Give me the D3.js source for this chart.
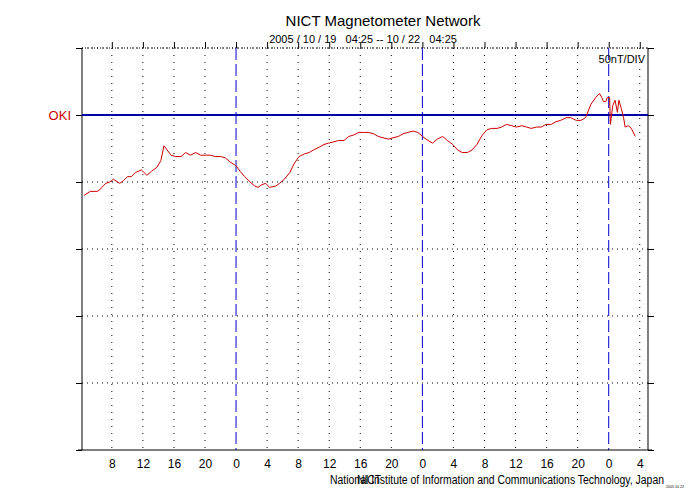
<!DOCTYPE html>
<html><head><meta charset="utf-8">
<script src="https://cdn.jsdelivr.net/npm/d3@7"></script>
<style>body{margin:0;background:#fff}text{font-family:"Liberation Sans",Arial,sans-serif;white-space:pre}</style>
</head><body><svg id="c" width="700" height="500"></svg>
<script>
// hours since 2005/10/19 04:25
var hours = [0,0.8,1.7,2.0,2.3,2.8,3.3,3.8,4.6,5.1,5.6,6.1,6.6,7.4,8.1,8.7,9.4,9.9,10.3,10.7,11.2,11.8,12.5,13.1,13.7,14.4,15.0,15.6,16.3,16.9,17.6,18.2,18.8,19.6,20.1,20.7,21.4,22.0,22.4,22.9,23.4,23.9,24.7,25.2,25.8,26.5,27.1,27.7,28.4,29.0,29.6,30.3,30.9,31.5,32.2,32.8,33.5,34.1,34.7,35.4,36.0,36.6,37.3,37.9,38.5,39.2,39.8,40.5,41.1,41.7,42.4,43.0,43.6,44.3,44.9,45.5,46.2,46.8,47.5,48.1,48.7,49.4,50.0,50.6,51.3,51.9,52.5,53.2,53.8,54.4,55.1,55.7,56.4,57.0,57.6,58.3,58.9,59.5,60.2,60.8,61.4,62.1,62.7,63.4,64.0,64.6,65.3,65.9,66.4,66.7,66.9,67.2,67.4,67.7,67.8,68.1,68.4,68.7,68.9,69.2,69.5,69.7,70.1,70.5,71.0];
// OKI H component, nT relative to baseline
var oki = [-60,-57,-57,-56,-54,-51,-50,-48,-51,-49,-46,-46,-43,-41,-45,-42,-39,-34,-23,-26,-30,-31,-31,-28,-30,-28,-30,-30,-30,-31,-31,-32,-35,-38,-42,-46,-50,-53,-54,-52,-51,-54,-53,-51,-48,-43,-36,-31,-29,-28,-26,-24,-22,-21,-20,-19,-19,-16,-15,-13,-13,-13,-14,-16,-17,-18,-17,-16,-14,-13,-12,-13,-16,-19,-21,-18,-16,-19,-22,-26,-28,-28,-26,-22,-15,-11,-10,-10,-9,-7,-8,-9,-8,-9,-10,-9,-9,-7,-7,-5,-4,-2,-2,-4,-4,-2,8,13,16,13,10,10,13,13,-7,7,11,2,11,5,-2,-9,-8,-10,-16];
var hourTicks = d3.range(8, 77, 4);
var dayTicks = [24, 48, 72];
var startHour = 4 + 25 / 60;

var svg = d3.select("#c");
var L = 82, R = 648, T = 48, B = 450;
var x = d3.scaleLinear().domain([startHour, startHour + 72]).range([84, 643]);
var y = d3.scaleLinear().domain([-250, 50]).range([B, T]);
var yTicks = d3.range(-250, 51, 50);

// horizontal dotted grid
svg.append("g").selectAll("line").data(yTicks.filter(function (v) { return v != 0 && v != -250; }))
  .enter().append("line").attr("x1", L).attr("x2", R).attr("y1", y).attr("y2", y)
  .attr("stroke", "#000").attr("stroke-dasharray", "1,4");
// vertical dotted grid
svg.append("g").selectAll("line").data(hourTicks.filter(function (h) { return dayTicks.indexOf(h) < 0; }))
  .enter().append("line").attr("x1", x).attr("x2", x).attr("y1", T).attr("y2", B)
  .attr("stroke", "#000").attr("stroke-dasharray", "1,6");
// day lines
svg.append("g").selectAll("line").data(dayTicks)
  .enter().append("line").attr("x1", x).attr("x2", x).attr("y1", T).attr("y2", B)
  .attr("stroke", "#0000cc").attr("stroke-dasharray", "12,4");

// frame
svg.append("line").attr("x1", L).attr("x2", R).attr("y1", T).attr("y2", T).attr("stroke", "#000").attr("stroke-dasharray", "1,2");
svg.append("line").attr("x1", L).attr("x2", L).attr("y1", T).attr("y2", B).attr("stroke", "#000");
svg.append("line").attr("x1", R).attr("x2", R).attr("y1", T).attr("y2", B).attr("stroke", "#000");

var axL = svg.append("g").attr("transform", "translate(" + L + ",0)")
  .call(d3.axisLeft(y).tickValues(yTicks).tickSize(6).tickFormat(""));
var axR = svg.append("g").attr("transform", "translate(" + R + ",0)")
  .call(d3.axisRight(y).tickValues(yTicks).tickSize(6).tickFormat(""));
var axB = svg.append("g").attr("transform", "translate(0," + B + ")")
  .call(d3.axisBottom(x).tickValues(hourTicks).tickSize(0).tickPadding(9).tickFormat(function (h) { return h % 24; }));
var axT = svg.append("g").attr("transform", "translate(0," + T + ")")
  .call(d3.axisTop(x).tickValues(hourTicks).tickSize(6).tickFormat(""));
[axL, axR, axB, axT].forEach(function (a) { a.select(".domain").remove(); a.selectAll("line").attr("stroke", "#000"); });
axB.selectAll("text").attr("font-size", 12).attr("fill", "#000").style("font-family", "Liberation Sans, Arial, sans-serif");
svg.append("line").attr("x1", L - 4).attr("x2", R + 4).attr("y1", B).attr("y2", B).attr("stroke", "#000");

// baseline
svg.append("line").attr("x1", L).attr("x2", R).attr("y1", y(0)).attr("y2", y(0)).attr("stroke", "#0000aa").attr("stroke-width", 2);

// data
var line = d3.line().x(function (d) { return x(startHour + d[0]); }).y(function (d) { return y(d[1]); });
svg.append("path").datum(hours.map(function (h, i) { return [h, oki[i]]; }))
  .attr("d", line).attr("fill", "none").attr("stroke", "#cc0000").attr("stroke-width", 1);

// text
svg.append("text").attr("x", 383).attr("y", 26).attr("text-anchor", "middle").attr("font-size", 15).text("NICT Magnetometer Network");
svg.append("text").attr("x", 363).attr("y", 43).attr("text-anchor", "middle").attr("font-size", 11).text("2005 / 10 / 19   04:25 -- 10 / 22   04:25");
svg.append("text").attr("x", 645).attr("y", 63).attr("text-anchor", "end").attr("font-size", 11).text("50nT/DIV");
svg.append("text").attr("x", 71).attr("y", 120).attr("text-anchor", "end").attr("font-size", 13).attr("fill", "#cc0000").text("OKI");
svg.append("text").attr("x", 330).attr("y", 484).attr("font-size", 12).attr("textLength", 334).attr("lengthAdjust", "spacingAndGlyphs")
  .text("National Institute of Information and Communications Technology, Japan");
svg.append("text").attr("x", 357).attr("y", 484).attr("font-size", 12).attr("textLength", 24).attr("lengthAdjust", "spacingAndGlyphs").text("NICT");
svg.append("text").attr("x", 666).attr("y", 488).attr("font-size", 4).attr("textLength", 18).attr("lengthAdjust", "spacingAndGlyphs").text("2005 10 22");
</script></body></html>
